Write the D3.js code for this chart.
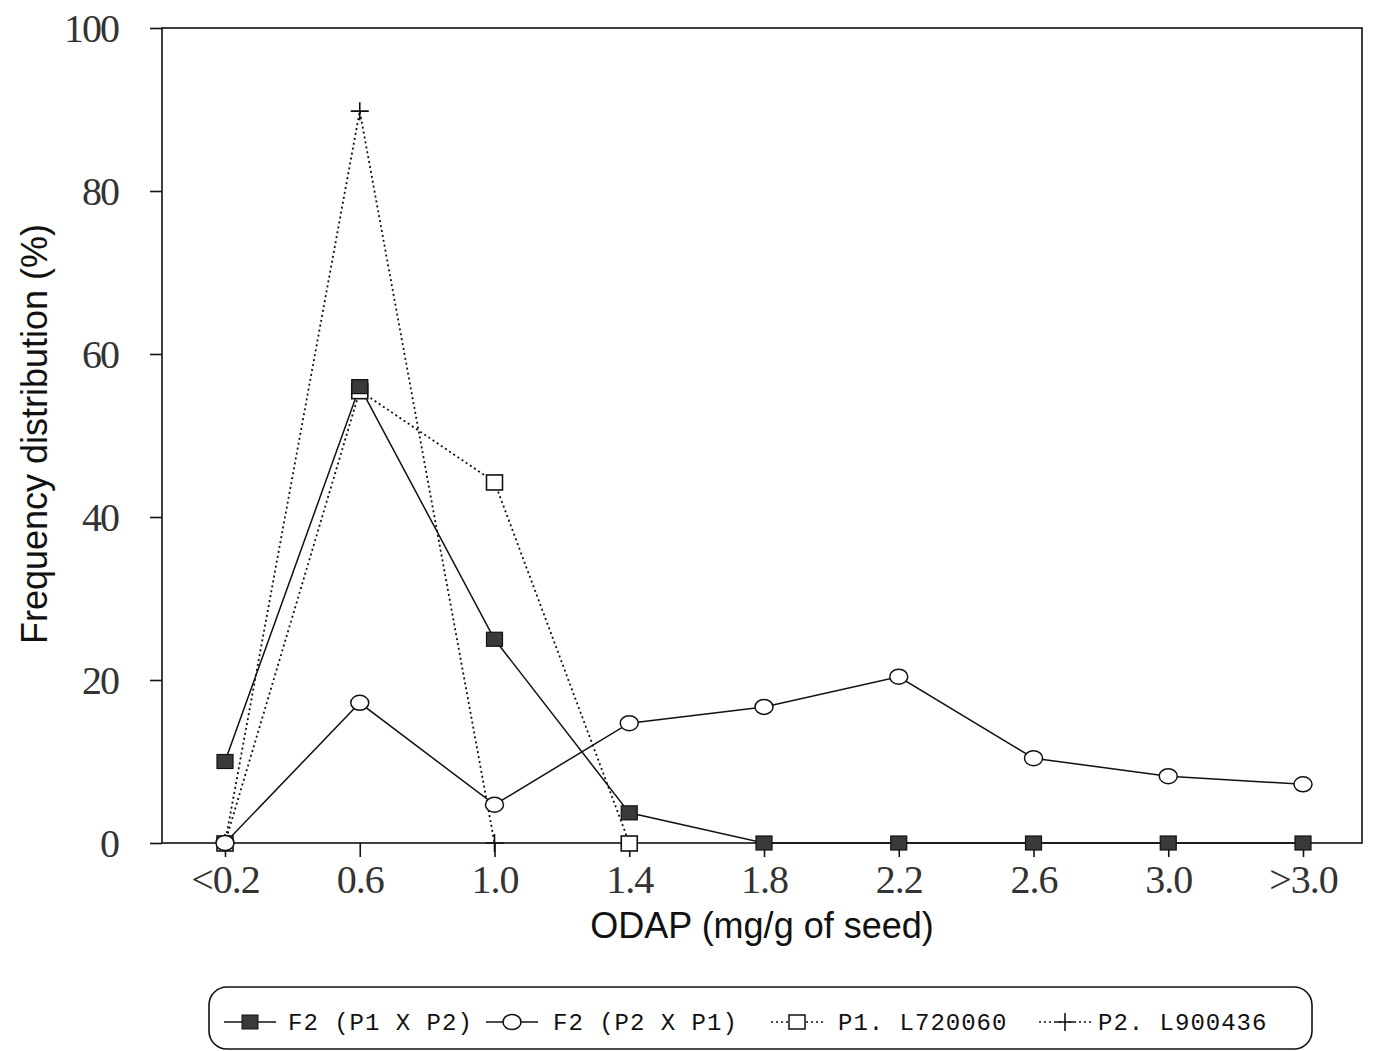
<!DOCTYPE html>
<html lang="en">
  <head>
    <meta charset="UTF-8">
    <title>ODAP frequency distribution</title>
    <script src="https://d3js.org/d3.v7.min.js"></script>
    <style>
      body { margin: 0; background: #fff; }
      svg { display: block; }
    </style>
  </head>
  <body>

<script>
  // categories on the x axis
  const categories = ["<0.2", "0.6", "1.0", "1.4", "1.8", "2.2", "2.6", "3.0", ">3.0"];
  const yTicks = [0, 20, 40, 60, 80, 100];

  // series values (frequency %)
  const f2P1xP2 = [10, 56, 25, 3.7, 0, 0, 0, 0, 0];
  const f2P2xP1 = [0, 17.2, 4.7, 14.7, 16.7, 20.4, 10.4, 8.2, 7.2];
  const p1L720060 = [0, 55.5, 44.3, 0];
  const p2L900436 = [0, 89.8, 0];

  const w = 1373;
  const h = 1051;
  const plotLeft = 162, plotRight = 1362, plotTop = 28, plotBottom = 843;

  const xScale = d3.scalePoint()
                   .domain(categories)
                   .range([225, 1303]);

  const yScale = d3.scaleLinear()
                   .domain([0, 100])
                   .range([plotBottom, plotTop]);

  const svg = d3.select("body")
                .append("svg")
                .attr("width", w)
                .attr("height", h);

  // frame
  svg.append("rect")
     .attr("x", plotLeft).attr("y", plotTop)
     .attr("width", plotRight - plotLeft).attr("height", plotBottom - plotTop)
     .attr("fill", "none").attr("stroke", "#111").attr("stroke-width", 1.6);

  // y axis
  const yAxis = d3.axisLeft(yScale).tickValues(yTicks).tickSize(12).tickPadding(32);
  const gy = svg.append("g")
     .attr("transform", `translate(${plotLeft},0)`)
     .call(yAxis);
  gy.select(".domain").remove();
  gy.selectAll("line").attr("stroke", "#111").attr("stroke-width", 1.6);
  gy.selectAll("text")
    .attr("font-family", "'Liberation Serif', serif")
    .attr("font-size", 40)
    .attr("letter-spacing", -2)
    .attr("fill", "#333")
    .attr("dy", "0.34em");

  // x axis
  const xAxis = d3.axisBottom(xScale).tickSize(14);
  const gx = svg.append("g")
     .attr("transform", `translate(0,${plotBottom})`)
     .call(xAxis);
  gx.select(".domain").remove();
  gx.selectAll("line").attr("stroke", "#111").attr("stroke-width", 1.6);
  gx.selectAll("text")
    .attr("font-family", "'Liberation Serif', serif")
    .attr("font-size", 40)
    .attr("letter-spacing", -1)
    .attr("fill", "#333")
    .attr("y", 50)
    .attr("dy", 0);

  // axis titles
  svg.append("text")
     .attr("transform", "translate(47,434) rotate(-90)")
     .attr("text-anchor", "middle")
     .attr("font-family", "'Liberation Sans', Arial, sans-serif")
     .attr("font-size", 36)
     .attr("fill", "#111")
     .text("Frequency distribution (%)");

  svg.append("text")
     .attr("x", 762).attr("y", 938)
     .attr("text-anchor", "middle")
     .attr("font-family", "'Liberation Sans', Arial, sans-serif")
     .attr("font-size", 36)
     .attr("fill", "#111")
     .text("ODAP (mg/g of seed)");

  const line = d3.line()
                 .x((d, i) => xScale(categories[i]))
                 .y(d => yScale(d));

  // dotted parent lines
  svg.append("path").datum(p2L900436)
     .attr("d", line).attr("fill", "none")
     .attr("stroke", "#111").attr("stroke-width", 1.8).attr("stroke-dasharray", "2,3");
  svg.append("path").datum(p1L720060)
     .attr("d", line).attr("fill", "none")
     .attr("stroke", "#111").attr("stroke-width", 1.8).attr("stroke-dasharray", "2,3");

  // solid F2 lines
  svg.append("path").datum(f2P2xP1)
     .attr("d", line).attr("fill", "none")
     .attr("stroke", "#111").attr("stroke-width", 1.5);
  svg.append("path").datum(f2P1xP2)
     .attr("d", line).attr("fill", "none")
     .attr("stroke", "#111").attr("stroke-width", 1.5);

  // markers
  svg.selectAll(".plus")
     .data(p2L900436)
     .enter()
     .append("path")
     .attr("class", "plus")
     .attr("transform", (d, i) => `translate(${xScale(categories[i])},${yScale(d)})`)
     .attr("d", "M-9,0H9M0,-9V9")
     .attr("stroke", "#111").attr("stroke-width", 1.6);

  svg.selectAll(".osq")
     .data(p1L720060)
     .enter()
     .append("rect")
     .attr("class", "osq")
     .attr("x", (d, i) => xScale(categories[i]) - 8)
     .attr("y", (d, i) => yScale(d) - 7)
     .attr("width", 16).attr("height", 15)
     .attr("fill", "#fff").attr("stroke", "#111").attr("stroke-width", 1.6);

  svg.selectAll(".circ")
     .data(f2P2xP1)
     .enter()
     .append("ellipse")
     .attr("class", "circ")
     .attr("cx", (d, i) => xScale(categories[i]))
     .attr("cy", d => yScale(d))
     .attr("rx", 9).attr("ry", 7.5)
     .attr("fill", "#fff").attr("stroke", "#111").attr("stroke-width", 1.5);

  svg.selectAll(".fsq")
     .data(f2P1xP2)
     .enter()
     .append("rect")
     .attr("class", "fsq")
     .attr("x", (d, i) => xScale(categories[i]) - 8)
     .attr("y", d => yScale(d) - 7)
     .attr("width", 16).attr("height", 14)
     .attr("fill", "#3a3a3a").attr("stroke", "#111").attr("stroke-width", 1.2);

  // legend
  svg.append("rect")
     .attr("x", 209).attr("y", 987)
     .attr("width", 1103).attr("height", 62)
     .attr("rx", 18).attr("ry", 18)
     .attr("fill", "none").attr("stroke", "#111").attr("stroke-width", 1.6);

  const legendNames = ["F2 (P1 X P2)", "F2 (P2 X P1)", "P1. L720060", "P2. L900436"];
  const legendX = [250, 512, 797, 1065];
  const legendTextX = [288, 553, 838, 1098];
  const ly = 1022;

  legendNames.forEach((name, i) => {
    const g = svg.append("g");
    const dotted = i >= 2;
    g.append("line")
     .attr("x1", legendX[i] - 26).attr("x2", legendX[i] + 26)
     .attr("y1", ly).attr("y2", ly)
     .attr("stroke", "#111").attr("stroke-width", 1.6)
     .attr("stroke-dasharray", dotted ? "2,3" : null);
    if (i === 0) {
      g.append("rect").attr("x", legendX[i] - 8).attr("y", ly - 7)
       .attr("width", 16).attr("height", 14)
       .attr("fill", "#3a3a3a").attr("stroke", "#111");
    } else if (i === 1) {
      g.append("ellipse").attr("cx", legendX[i]).attr("cy", ly)
       .attr("rx", 9).attr("ry", 7.5)
       .attr("fill", "#fff").attr("stroke", "#111").attr("stroke-width", 1.5);
    } else if (i === 2) {
      g.append("rect").attr("x", legendX[i] - 8).attr("y", ly - 7)
       .attr("width", 16).attr("height", 14)
       .attr("fill", "#fff").attr("stroke", "#111").attr("stroke-width", 1.5);
    } else {
      g.append("path").attr("transform", `translate(${legendX[i]},${ly})`)
       .attr("d", "M-9,0H9M0,-9V9")
       .attr("stroke", "#111").attr("stroke-width", 1.6);
    }
    g.append("text")
     .attr("x", legendTextX[i]).attr("y", ly + 8)
     .attr("font-family", "'Liberation Mono', monospace")
     .attr("font-size", 24)
     .attr("letter-spacing", 1)
     .attr("fill", "#111")
     .text(name);
  });
</script>

  </body>
</html>
